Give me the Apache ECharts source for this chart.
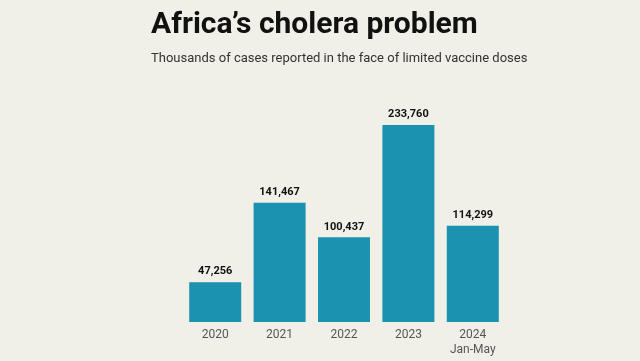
<!DOCTYPE html>
<html><head><meta charset="utf-8">
<script src="https://cdn.jsdelivr.net/npm/echarts@6/dist/echarts.min.js"></script>
<style>html,body{margin:0;padding:0;background:#f0efe8}#c{width:640px;height:361px}</style>
</head><body><div id="c"></div>
<script>
const categories = ['2020', '2021', '2022', '2023', '2024\nJan-May'];
const cases = [47256, 141467, 100437, 233760, 114299];
const titleText = 'Africa\u2019s cholera problem';
const subtitleText = 'Thousands of cases reported in the face of limited vaccine doses';

const FONT = 'Roboto, sans-serif';
const chart = echarts.init(document.getElementById('c'));
chart.setOption({
  backgroundColor: '#f0efe8',
  animation: false,
  title: {
    text: titleText,
    subtext: subtitleText,
    left: 146, top: 5,
    itemGap: 12,
    textStyle: {fontFamily: FONT, fontWeight: 'bold', fontSize: 30, color: '#111'},
    subtextStyle: {fontFamily: FONT, fontSize: 13, color: '#333'}
  },
  grid: {left: 183, right: 135, top: 125, bottom: 39},
  xAxis: {
    type: 'category', data: categories,
    axisLine: {show: false}, axisTick: {show: false},
    axisLabel: {color: '#555', fontSize: 12, lineHeight: 15, margin: 5, fontFamily: FONT}
  },
  yAxis: {type: 'value', min: 0, max: 233760, show: false, splitLine: {show: false}},
  series: [{
    type: 'bar', data: cases, barWidth: 52,
    itemStyle: {color: '#1a92b0'},
    label: {show: true, position: 'top', distance: 5, color: '#111', fontWeight: 'bold', fontSize: 11,
      fontFamily: FONT,
      formatter: p => p.value.toLocaleString('en-US')}
  }]
});
</script></body></html>
